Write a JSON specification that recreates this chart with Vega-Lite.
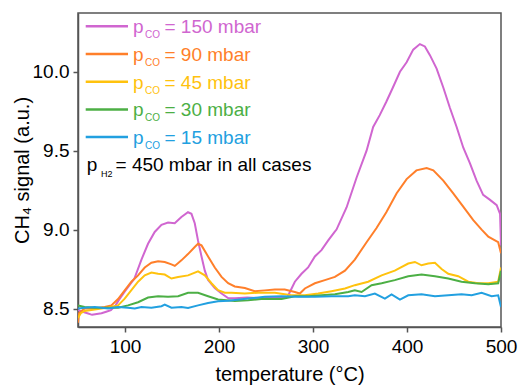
{
  "$schema": "https://vega.github.io/schema/vega-lite/v6.json",
  "autosize": {"type": "none"},
  "width": 423,
  "height": 314,
  "padding": {"left": 78, "top": 13, "right": 17, "bottom": 58},
  "background": "white",
  "config": {
    "font": "Liberation Sans",
    "view": {"stroke": "#555555", "strokeWidth": 1.5},
    "axis": {
      "grid": false,
      "domainColor": "#555555",
      "domainWidth": 1.5,
      "tickColor": "#555555",
      "tickWidth": 1.5,
      "tickSize": 5,
      "labelFont": "Liberation Sans",
      "labelFontSize": 19,
      "labelColor": "#000000",
      "labelFlush": false,
      "labelOverlap": false,
      "titleFont": "Liberation Sans",
      "titleFontSize": 20,
      "titleFontWeight": "normal",
      "titleColor": "#000000"
    }
  },
  "datasets": {
    "curves": [
      {"series":"150","T":50,"signal":8.49},{"series":"150","T":55,"signal":8.48},{"series":"150","T":60,"signal":8.47},{"series":"150","T":65,"signal":8.46},{"series":"150","T":70,"signal":8.465},{"series":"150","T":75,"signal":8.47},{"series":"150","T":80,"signal":8.48},{"series":"150","T":85,"signal":8.49},{"series":"150","T":90,"signal":8.52},{"series":"150","T":93,"signal":8.55},{"series":"150","T":100,"signal":8.61},{"series":"150","T":105,"signal":8.65},{"series":"150","T":110,"signal":8.69},{"series":"150","T":117.5,"signal":8.81},{"series":"150","T":124.5,"signal":8.91},{"series":"150","T":131.6,"signal":8.985},{"series":"150","T":138.8,"signal":9.03},{"series":"150","T":145.8,"signal":9.045},{"series":"150","T":152.9,"signal":9.04},{"series":"150","T":160,"signal":9.08},{"series":"150","T":167,"signal":9.11},{"series":"150","T":170.7,"signal":9.1},{"series":"150","T":174.2,"signal":9.04},{"series":"150","T":177.7,"signal":8.93},{"series":"150","T":181.4,"signal":8.83},{"series":"150","T":184.9,"signal":8.74},{"series":"150","T":188.4,"signal":8.68},{"series":"150","T":195.5,"signal":8.63},{"series":"150","T":202.7,"signal":8.595},{"series":"150","T":210,"signal":8.565},{"series":"150","T":217,"signal":8.565},{"series":"150","T":230,"signal":8.57},{"series":"150","T":245,"signal":8.565},{"series":"150","T":260,"signal":8.57},{"series":"150","T":273,"signal":8.575},{"series":"150","T":275,"signal":8.6},{"series":"150","T":280.7,"signal":8.67},{"series":"150","T":287.8,"signal":8.72},{"series":"150","T":294.8,"signal":8.76},{"series":"150","T":302,"signal":8.83},{"series":"150","T":309,"signal":8.87},{"series":"150","T":316,"signal":8.93},{"series":"150","T":323,"signal":8.985},{"series":"150","T":325,"signal":9.0},{"series":"150","T":335.7,"signal":9.14},{"series":"150","T":346.4,"signal":9.33},{"series":"150","T":357,"signal":9.5},{"series":"150","T":364,"signal":9.65},{"series":"150","T":371,"signal":9.725},{"series":"150","T":378,"signal":9.81},{"series":"150","T":385,"signal":9.9},{"series":"150","T":392.5,"signal":10.0},{"series":"150","T":399.6,"signal":10.06},{"series":"150","T":406.6,"signal":10.14},{"series":"150","T":413.7,"signal":10.175},{"series":"150","T":419,"signal":10.16},{"series":"150","T":424.4,"signal":10.105},{"series":"150","T":431.5,"signal":10.02},{"series":"150","T":438.6,"signal":9.9},{"series":"150","T":445.7,"signal":9.77},{"series":"150","T":452.8,"signal":9.65},{"series":"150","T":459.8,"signal":9.52},{"series":"150","T":467,"signal":9.42},{"series":"150","T":474,"signal":9.31},{"series":"150","T":481,"signal":9.22},{"series":"150","T":488,"signal":9.19},{"series":"150","T":495.4,"signal":9.155},{"series":"150","T":499,"signal":9.1},{"series":"150","T":500,"signal":8.9},

      {"series":"90","T":50,"signal":8.41},{"series":"90","T":51,"signal":8.47},{"series":"90","T":57,"signal":8.5},{"series":"90","T":67.8,"signal":8.5},{"series":"90","T":78.4,"signal":8.51},{"series":"90","T":85.5,"signal":8.52},{"series":"90","T":92.6,"signal":8.56},{"series":"90","T":99.7,"signal":8.615},{"series":"90","T":106.8,"signal":8.67},{"series":"90","T":113.9,"signal":8.71},{"series":"90","T":121,"signal":8.76},{"series":"90","T":128.1,"signal":8.79},{"series":"90","T":135.2,"signal":8.8},{"series":"90","T":142.3,"signal":8.795},{"series":"90","T":149.4,"signal":8.78},{"series":"90","T":153,"signal":8.77},{"series":"90","T":160,"signal":8.805},{"series":"90","T":167,"signal":8.845},{"series":"90","T":174.2,"signal":8.89},{"series":"90","T":177.7,"signal":8.91},{"series":"90","T":181.4,"signal":8.9},{"series":"90","T":188.4,"signal":8.83},{"series":"90","T":195.5,"signal":8.76},{"series":"90","T":202.7,"signal":8.7},{"series":"90","T":209.7,"signal":8.66},{"series":"90","T":216.8,"signal":8.64},{"series":"90","T":227.5,"signal":8.63},{"series":"90","T":238,"signal":8.61},{"series":"90","T":248.7,"signal":8.615},{"series":"90","T":259.4,"signal":8.62},{"series":"90","T":270,"signal":8.62},{"series":"90","T":280.7,"signal":8.605},{"series":"90","T":286,"signal":8.595},{"series":"90","T":291.4,"signal":8.627},{"series":"90","T":302,"signal":8.66},{"series":"90","T":312.6,"signal":8.68},{"series":"90","T":323.3,"signal":8.7},{"series":"90","T":334,"signal":8.74},{"series":"90","T":344.5,"signal":8.81},{"series":"90","T":357,"signal":8.92},{"series":"90","T":367.6,"signal":9.01},{"series":"90","T":378,"signal":9.11},{"series":"90","T":389,"signal":9.23},{"series":"90","T":399.6,"signal":9.32},{"series":"90","T":410,"signal":9.375},{"series":"90","T":420.9,"signal":9.39},{"series":"90","T":428,"signal":9.375},{"series":"90","T":438.6,"signal":9.31},{"series":"90","T":449.2,"signal":9.23},{"series":"90","T":459.8,"signal":9.145},{"series":"90","T":470.5,"signal":9.06},{"series":"90","T":479.4,"signal":9.0},{"series":"90","T":486.5,"signal":8.955},{"series":"90","T":497,"signal":8.92},{"series":"90","T":500,"signal":8.85},

      {"series":"45","T":50,"signal":8.44},{"series":"45","T":53,"signal":8.47},{"series":"45","T":57,"signal":8.485},{"series":"45","T":67.8,"signal":8.494},{"series":"45","T":82,"signal":8.506},{"series":"45","T":92.6,"signal":8.52},{"series":"45","T":99.7,"signal":8.563},{"series":"45","T":106.8,"signal":8.616},{"series":"45","T":113.9,"signal":8.67},{"series":"45","T":121,"signal":8.71},{"series":"45","T":128.1,"signal":8.728},{"series":"45","T":135.2,"signal":8.72},{"series":"45","T":142.3,"signal":8.715},{"series":"45","T":149.4,"signal":8.69},{"series":"45","T":156.5,"signal":8.7},{"series":"45","T":167.1,"signal":8.71},{"series":"45","T":177.7,"signal":8.736},{"series":"45","T":184.9,"signal":8.71},{"series":"45","T":192,"signal":8.66},{"series":"45","T":199,"signal":8.616},{"series":"45","T":206.2,"signal":8.6},{"series":"45","T":213.3,"signal":8.6},{"series":"45","T":227.5,"signal":8.595},{"series":"45","T":241.6,"signal":8.6},{"series":"45","T":259.4,"signal":8.6},{"series":"45","T":277,"signal":8.584},{"series":"45","T":291.4,"signal":8.584},{"series":"45","T":305.5,"signal":8.595},{"series":"45","T":319.7,"signal":8.61},{"series":"45","T":334,"signal":8.627},{"series":"45","T":344.5,"signal":8.648},{"series":"45","T":358.7,"signal":8.67},{"series":"45","T":373,"signal":8.71},{"series":"45","T":387,"signal":8.74},{"series":"45","T":401.3,"signal":8.785},{"series":"45","T":408.4,"signal":8.795},{"series":"45","T":415.5,"signal":8.774},{"series":"45","T":422.6,"signal":8.785},{"series":"45","T":429.7,"signal":8.79},{"series":"45","T":436.8,"signal":8.75},{"series":"45","T":443.9,"signal":8.72},{"series":"45","T":454.5,"signal":8.705},{"series":"45","T":465.2,"signal":8.67},{"series":"45","T":475.8,"signal":8.66},{"series":"45","T":486.5,"signal":8.66},{"series":"45","T":497,"signal":8.67},{"series":"45","T":500,"signal":8.76},

      {"series":"30","T":50,"signal":8.52},{"series":"30","T":57,"signal":8.51},{"series":"30","T":67.8,"signal":8.505},{"series":"30","T":82,"signal":8.505},{"series":"30","T":92.6,"signal":8.505},{"series":"30","T":103.2,"signal":8.52},{"series":"30","T":113.9,"signal":8.54},{"series":"30","T":124.5,"signal":8.57},{"series":"30","T":135.2,"signal":8.578},{"series":"30","T":145.8,"signal":8.574},{"series":"30","T":156.5,"signal":8.578},{"series":"30","T":167.1,"signal":8.6},{"series":"30","T":177.7,"signal":8.6},{"series":"30","T":188.4,"signal":8.578},{"series":"30","T":199,"signal":8.557},{"series":"30","T":216.8,"signal":8.548},{"series":"30","T":231,"signal":8.553},{"series":"30","T":245,"signal":8.56},{"series":"30","T":266.5,"signal":8.56},{"series":"30","T":280.7,"signal":8.578},{"series":"30","T":294.8,"signal":8.578},{"series":"30","T":309,"signal":8.584},{"series":"30","T":323.3,"signal":8.59},{"series":"30","T":337.5,"signal":8.605},{"series":"30","T":344.5,"signal":8.616},{"series":"30","T":351.7,"signal":8.605},{"series":"30","T":362.3,"signal":8.648},{"series":"30","T":373,"signal":8.66},{"series":"30","T":387,"signal":8.68},{"series":"30","T":401.3,"signal":8.705},{"series":"30","T":415.5,"signal":8.715},{"series":"30","T":429.7,"signal":8.705},{"series":"30","T":443.9,"signal":8.69},{"series":"30","T":458,"signal":8.67},{"series":"30","T":472.3,"signal":8.66},{"series":"30","T":486.5,"signal":8.654},{"series":"30","T":497,"signal":8.66},{"series":"30","T":500,"signal":8.74},

      {"series":"15","T":50,"signal":8.5},{"series":"15","T":57,"signal":8.505},{"series":"15","T":67.8,"signal":8.51},{"series":"15","T":82,"signal":8.5},{"series":"15","T":92.6,"signal":8.51},{"series":"15","T":103.2,"signal":8.505},{"series":"15","T":110.4,"signal":8.5},{"series":"15","T":117.5,"signal":8.51},{"series":"15","T":128.1,"signal":8.505},{"series":"15","T":138.8,"signal":8.515},{"series":"15","T":142.3,"signal":8.525},{"series":"15","T":149.4,"signal":8.505},{"series":"15","T":160,"signal":8.51},{"series":"15","T":167.1,"signal":8.503},{"series":"15","T":177.7,"signal":8.52},{"series":"15","T":188.4,"signal":8.535},{"series":"15","T":199,"signal":8.546},{"series":"15","T":210,"signal":8.55},{"series":"15","T":231,"signal":8.563},{"series":"15","T":248.7,"signal":8.574},{"series":"15","T":266.5,"signal":8.578},{"series":"15","T":284.3,"signal":8.574},{"series":"15","T":302,"signal":8.574},{"series":"15","T":319.7,"signal":8.578},{"series":"15","T":337.5,"signal":8.578},{"series":"15","T":344.5,"signal":8.584},{"series":"15","T":355.3,"signal":8.578},{"series":"15","T":365.8,"signal":8.595},{"series":"15","T":376.5,"signal":8.563},{"series":"15","T":383.6,"signal":8.59},{"series":"15","T":392.5,"signal":8.557},{"series":"15","T":401.3,"signal":8.584},{"series":"15","T":415.5,"signal":8.59},{"series":"15","T":429.7,"signal":8.578},{"series":"15","T":443.9,"signal":8.584},{"series":"15","T":458,"signal":8.59},{"series":"15","T":468.8,"signal":8.584},{"series":"15","T":479.4,"signal":8.6},{"series":"15","T":490,"signal":8.578},{"series":"15","T":497,"signal":8.584},{"series":"15","T":500,"signal":8.51}
    ],
    "legend": [
      {"series":"150","rank":1,"label":"= 150 mbar"},
      {"series":"90","rank":2,"label":"= 90 mbar"},
      {"series":"45","rank":3,"label":"= 45 mbar"},
      {"series":"30","rank":4,"label":"= 30 mbar"},
      {"series":"15","rank":5,"label":"= 15 mbar"}
    ],
    "note": [
      {"rank":6,"label":"= 450 mbar in all cases"}
    ]
  },
  "resolve": {"scale": {"y": "independent"}},
  "layer": [
    {
      "data": {"name": "curves"},
      "mark": {"type": "line", "strokeWidth": 2, "clip": true, "interpolate": "linear"},
      "encoding": {
        "x": {"field": "T", "type": "quantitative", "scale": {"domain": [50, 500], "nice": false, "zero": false},
              "axis": {"title": "temperature (°C)", "values": [100, 200, 300, 400, 500], "labelPadding": 5, "titlePadding": 8}},
        "y": {"field": "signal", "type": "quantitative", "scale": {"domain": [8.383, 10.372], "nice": false, "zero": false},
              "axis": {"title": "CH₄ signal (a.u.)", "values": [8.5, 9.0, 9.5, 10.0], "format": ".1f", "labelPadding": 4, "titlePadding": 0}},
        "color": {"field": "series", "type": "nominal", "legend": null,
                  "scale": {"domain": ["150", "90", "45", "30", "15"], "range": ["#D066D0", "#FF7F2A", "#FFC20E", "#4CAF45", "#22A0E0"]}},
        "order": {"field": "T", "type": "quantitative"},
        "detail": {"field": "series"}
      }
    },
    {
      "layer": [
        {
          "data": {"name": "legend"},
          "mark": {"type": "rule", "strokeWidth": 2.5},
          "encoding": {
            "x": {"datum": 58.2, "type": "quantitative"},
            "x2": {"datum": 103.2},
            "y": {"field": "rank", "type": "quantitative", "scale": {"domain": [0.5194, 11.855], "nice": false, "zero": false, "reverse": true}, "axis": null},
            "color": {"field": "series", "type": "nominal", "legend": null}
          }
        },
        {
          "data": {"name": "legend"},
          "mark": {"type": "text", "text": "p", "fontSize": 19, "align": "left", "baseline": "alphabetic", "dy": 7},
          "encoding": {
            "x": {"datum": 108.4, "type": "quantitative"},
            "y": {"field": "rank", "type": "quantitative", "axis": null},
            "color": {"field": "series", "type": "nominal", "legend": null}
          }
        },
        {
          "data": {"name": "legend"},
          "mark": {"type": "text", "text": "CO", "fontSize": 10, "align": "left", "baseline": "alphabetic", "dy": 12},
          "encoding": {
            "x": {"datum": 121.3, "type": "quantitative"},
            "y": {"field": "rank", "type": "quantitative", "axis": null},
            "color": {"field": "series", "type": "nominal", "legend": null}
          }
        },
        {
          "data": {"name": "legend"},
          "mark": {"type": "text", "fontSize": 19, "align": "left", "baseline": "alphabetic", "dy": 7},
          "encoding": {
            "x": {"datum": 142.0, "type": "quantitative"},
            "y": {"field": "rank", "type": "quantitative", "axis": null},
            "text": {"field": "label"},
            "color": {"field": "series", "type": "nominal", "legend": null}
          }
        },
        {
          "data": {"name": "note"},
          "mark": {"type": "text", "text": "p", "fontSize": 19, "align": "left", "baseline": "alphabetic", "dy": 6, "color": "#000000"},
          "encoding": {
            "x": {"datum": 59.2, "type": "quantitative"},
            "y": {"field": "rank", "type": "quantitative", "axis": null}
          }
        },
        {
          "data": {"name": "note"},
          "mark": {"type": "text", "text": "H2", "fontSize": 9, "align": "left", "baseline": "alphabetic", "dy": 12.6, "color": "#000000"},
          "encoding": {
            "x": {"datum": 74.6, "type": "quantitative"},
            "y": {"field": "rank", "type": "quantitative", "axis": null}
          }
        },
        {
          "data": {"name": "note"},
          "mark": {"type": "text", "fontSize": 19, "align": "left", "baseline": "alphabetic", "dy": 6, "color": "#000000"},
          "encoding": {
            "x": {"datum": 89.9, "type": "quantitative"},
            "y": {"field": "rank", "type": "quantitative", "axis": null},
            "text": {"field": "label"}
          }
        }
      ]
    }
  ]
}
